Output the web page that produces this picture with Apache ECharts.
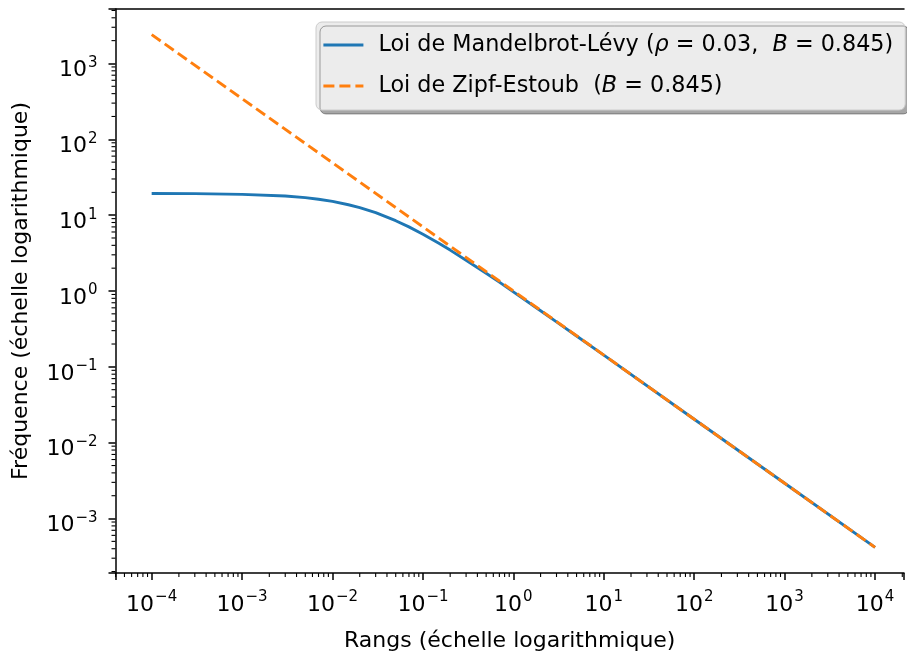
<!DOCTYPE html>
<html><head><meta charset="utf-8">
<script src="https://cdn.jsdelivr.net/npm/echarts@6/dist/echarts.min.js"></script>
<style>html,body{margin:0;padding:0;background:#fff}#c{width:907px;height:657px}</style>
</head><body><div id="c"></div>
<script>
// ---- data ----
const ranks = [1e-4, 3e-4, 1e-3, 3e-3, 5e-3, 7e-3, 1e-2, 1.5e-2, 2e-2, 3e-2, 5e-2, 7e-2, 0.1, 0.15, 0.2, 0.3, 0.5, 0.7, 1, 2, 3, 5, 10, 100, 1000, 1e4];
const mandelbrot = [19.3, 19.2, 18.8, 17.9, 17.0, 16.2, 15.2, 13.7, 12.6, 10.8, 8.45, 7.0, 5.61, 4.26, 3.46, 2.55, 1.71, 1.31, 0.975, 0.550, 0.392, 0.255, 0.143, 0.0204, 0.00292, 0.000417];
const zipfRanks = [1e-4, 1e-3, 1e-2, 1e-1, 1, 10, 100, 1000, 1e4];
const zipf = [2400, 343, 49.0, 7.00, 1.00, 0.143, 0.0204, 0.00292, 0.000417];
const xTickExponents = [-4, -3, -2, -1, 0, 1, 2, 3, 4];
const yTickExponents = [-3, -2, -1, 0, 1, 2, 3];
const seriesNames = ['Loi de Mandelbrot-Lévy', 'Loi de Zipf-Estoub'];
const legendLabels = [
  '{t|Loi de Mandelbrot-Lévy (}{i|ρ}{t| = 0.03,  }{i|B}{t| = 0.845)}',
  '{t|Loi de Zipf-Estoub  (}{i|B}{t| = 0.845)}'
];
const xTitle = 'Rangs (échelle logarithmique)';
const yTitle = 'Fréquence (échelle logarithmique)';

const FONT = 'DejaVu Sans';
const X_MIN = Math.pow(10, -4.4), X_MAX = Math.pow(10, 4.32);
const Y_MIN = Math.pow(10, -3.718), Y_MAX = Math.pow(10, 3.718);

function makeFormatter(allowed) {
  return function (v) {
    const e = Math.log10(v);
    const n = Math.round(e);
    if (Math.abs(e - n) > 1e-6 || allowed.indexOf(n) < 0) return '';
    return '{b|10}{s|' + (n < 0 ? '\u2212' + (-n) : String(n)) + '}';
  };
}
const richSup = {
  b: { fontFamily: FONT, fontSize: 22, lineHeight: 26, color: '#000', verticalAlign: 'bottom' },
  s: { fontFamily: FONT, fontSize: 15, lineHeight: 15, color: '#000', verticalAlign: 'top', padding: [0, 0, 0, 1] }
};

const chart = echarts.init(document.getElementById('c'), null, { renderer: 'canvas' });

const option = {
  animation: false,
  backgroundColor: '#fff',
  grid: { left: 115.5, right: 0, top: 9, bottom: 77, show: false },
  xAxis: [{
    type: 'log', logBase: 10, min: X_MIN, max: X_MAX,
    name: xTitle, nameLocation: 'middle', nameGap: 57,
    nameTextStyle: { fontFamily: FONT, fontSize: 22, color: '#000', lineHeight: 22 },
    axisLine: { lineStyle: { color: '#000', width: 1.5 } },
    axisTick: { show: true, length: 7, lineStyle: { color: '#000', width: 1.5 } },
    splitLine: { show: false },
    axisLabel: { formatter: makeFormatter(xTickExponents), margin: 17, rich: richSup, showMinLabel: true, showMaxLabel: true }
  }, {
    type: 'log', logBase: 10, min: X_MIN, max: X_MAX, position: 'top',
    axisLine: { show: true, lineStyle: { color: '#000', width: 1.5 } },
    axisTick: { show: false }, axisLabel: { show: false }, splitLine: { show: false }
  }],
  yAxis: {
    type: 'log', logBase: 10, min: Y_MIN, max: Y_MAX,
    name: yTitle, nameLocation: 'middle', nameGap: 83,
    nameTextStyle: { fontFamily: FONT, fontSize: 22, color: '#000', lineHeight: 22 },
    axisLine: { lineStyle: { color: '#000', width: 1.5 } },
    axisTick: { show: true, length: 7, lineStyle: { color: '#000', width: 1.5 } },
    splitLine: { show: false },
    axisLabel: { formatter: makeFormatter(yTickExponents), margin: 18, rich: richSup, padding: [10, 0, 0, 0], showMinLabel: true, showMaxLabel: true }
  },
  legend: {
    orient: 'vertical',
    left: 316, top: 22,
    padding: [9, 12, 10, 6],
    itemGap: 13,
    itemWidth: 40, itemHeight: 14,
    backgroundColor: '#ececec',
    borderColor: '#cccccc', borderWidth: 1, borderRadius: 6,
    shadowColor: 'rgba(0,0,0,0.35)', shadowBlur: 0, shadowOffsetX: 4, shadowOffsetY: 4,
    itemStyle: { color: 'transparent', borderWidth: 0, opacity: 0 },
    lineStyle: { width: 2.8 },
    data: seriesNames,
    formatter: function (name) { return legendLabels[seriesNames.indexOf(name)]; },
    textStyle: {
      fontFamily: FONT, fontSize: 22.3, color: '#000', lineHeight: 28, padding: [0, 0, 0, 10],
      rich: {
        t: { fontFamily: FONT, fontSize: 22.3, color: '#000', lineHeight: 28 },
        i: { fontFamily: FONT, fontSize: 22.3, color: '#000', fontStyle: 'italic', lineHeight: 28 }
      }
    }
  },
  series: [
    {
      name: seriesNames[0], type: 'line', symbol: 'none', showSymbol: false,
      data: ranks.map((r, i) => [r, mandelbrot[i]]),
      lineStyle: { color: '#1f77b4', width: 2.9 }, itemStyle: { color: '#1f77b4' }, z: 2
    },
    {
      name: seriesNames[1], type: 'line', symbol: 'none', showSymbol: false,
      data: zipfRanks.map((r, i) => [r, zipf[i]]),
      lineStyle: { color: '#ff7f0e', width: 2.9, type: [11, 5] }, itemStyle: { color: '#ff7f0e' }, z: 3
    }
  ]
};
chart.setOption(option);

// minor ticks at 2..9 x 10^n, placed through the axes' own scales
function minorTicks() {
  const els = [];
  const yBottom = chart.convertToPixel({ yAxisIndex: 0 }, Y_MIN);
  const xLeft = chart.convertToPixel({ xAxisIndex: 0 }, X_MIN);
  for (let e = -6; e <= 5; e++) {
    for (let k = 2; k <= 9; k++) {
      const v = k * Math.pow(10, e);
      if (v > X_MIN && v < X_MAX) {
        const px = chart.convertToPixel({ xAxisIndex: 0 }, v);
        els.push({ type: 'line', silent: true, shape: { x1: px, y1: yBottom, x2: px, y2: yBottom + 4 }, style: { stroke: '#000', lineWidth: 1.1 } });
      }
      if (v > Y_MIN && v < Y_MAX) {
        const py = chart.convertToPixel({ yAxisIndex: 0 }, v);
        els.push({ type: 'line', silent: true, shape: { x1: xLeft, y1: py, x2: xLeft - 4, y2: py }, style: { stroke: '#000', lineWidth: 1.1 } });
      }
    }
  }
  chart.setOption({ graphic: { elements: els } });
}
minorTicks();
</script>
</body></html>
